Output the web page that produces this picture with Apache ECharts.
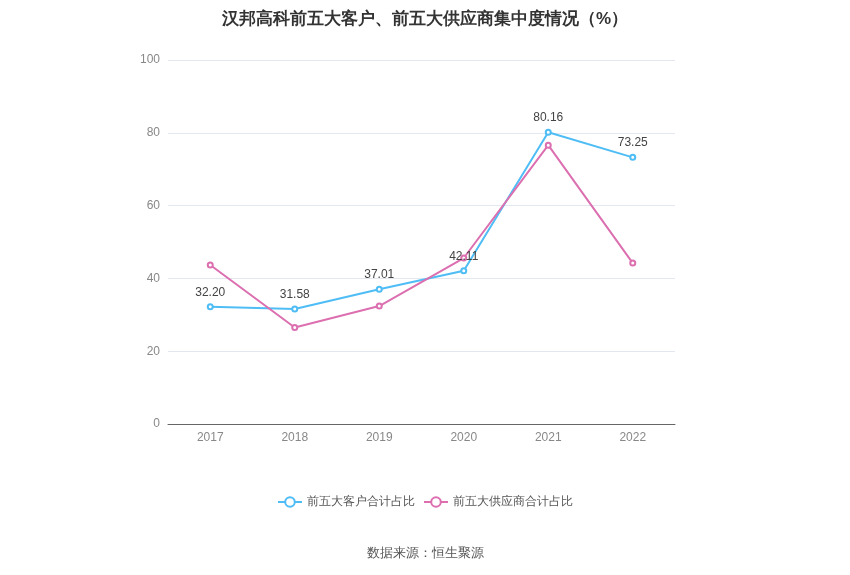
<!DOCTYPE html>
<html lang="zh">
<head>
    <meta charset="UTF-8">
    <script src="https://cdn.jsdelivr.net/npm/echarts@6/dist/echarts.min.js"></script>
    <style>
        body { margin: 0; }
        #chart { width: 850px; height: 575px; }
    </style>
</head>
<body>
<div id="chart"></div>
<script type="text/javascript">
    const years = ['2017', '2018', '2019', '2020', '2021', '2022'];
    const customerShare = [32.20, 31.58, 37.01, 42.11, 80.16, 73.25];
    const supplierShare = [43.7, 26.5, 32.4, 45.6, 76.6, 44.2];

    const chart = echarts.init(document.getElementById('chart'));
    chart.setOption({
        title: {
            text: '汉邦高科前五大客户、前五大供应商集中度情况（%）',
            left: 'center',
            top: 6,
            textStyle: { fontSize: 17, fontWeight: 'bold', color: '#333' }
        },
        graphic: [{
            type: 'text', left: 'center', top: 547,
            style: { text: '数据来源：恒生聚源', fontSize: 13, fill: '#555' }
        }],
        legend: {
            bottom: 62,
            itemWidth: 24, itemHeight: 12,
            textStyle: { color: '#555', fontSize: 12 },
            data: ['前五大客户合计占比', '前五大供应商合计占比']
        },
        grid: { left: 168, right: 175, top: 60, bottom: 151 },
        xAxis: {
            type: 'category',
            data: years,
            axisLine: { lineStyle: { color: '#666' } },
            axisTick: { alignWithLabel: true },
            axisLabel: { color: '#888' }
        },
        yAxis: {
            type: 'value', min: 0, max: 100, interval: 20,
            axisLabel: { color: '#888' },
            splitLine: { lineStyle: { color: '#e3e8f0' } }
        },
        series: [
            {
                name: '前五大客户合计占比',
                type: 'line',
                data: customerShare,
                symbol: 'emptyCircle', symbolSize: 5,
                itemStyle: { color: '#4fbdf5' },
                lineStyle: { width: 2 },
                label: { show: true, position: 'top', color: '#444', fontSize: 12, formatter: p => p.value.toFixed(2) }
            },
            {
                name: '前五大供应商合计占比',
                type: 'line',
                data: supplierShare,
                symbol: 'emptyCircle', symbolSize: 5,
                itemStyle: { color: '#dc6fb0' },
                lineStyle: { width: 2 }
            }
        ]
    });
</script>
</body>
</html>
